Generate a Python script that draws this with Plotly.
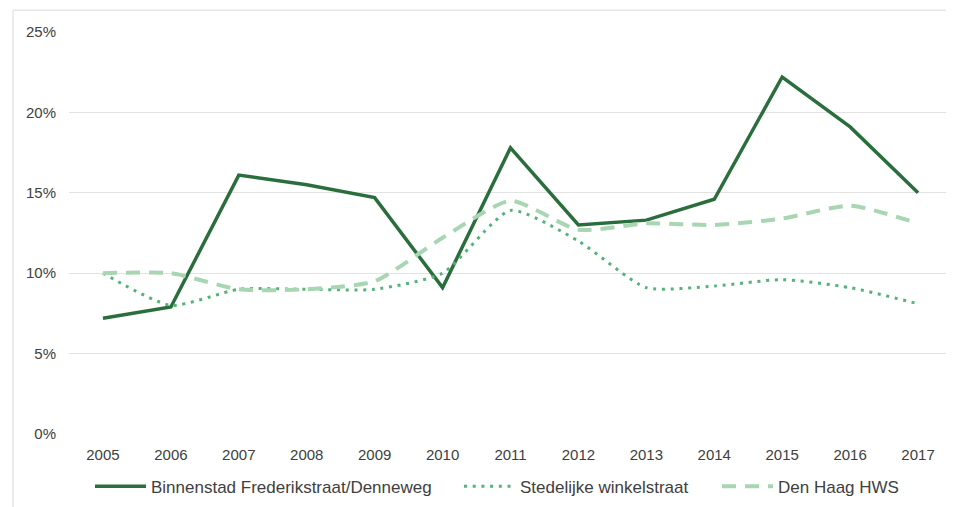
import plotly.graph_objects as go

years = ["2005", "2006", "2007", "2008", "2009", "2010", "2011",
         "2012", "2013", "2014", "2015", "2016", "2017"]
binnenstad = [7.2, 7.9, 16.1, 15.5, 14.7, 9.1, 17.8, 13.0, 13.3, 14.6, 22.2, 19.1, 15.0]
stedelijke = [10.0, 8.0, 9.0, 9.0, 9.0, 10.0, 13.9, 12.0, 9.1, 9.2, 9.6, 9.1, 8.1]
den_haag = [10.0, 10.0, 9.0, 9.0, 9.5, 12.2, 14.5, 12.7, 13.1, 13.0, 13.4, 14.2, 13.1]

names = ["Binnenstad Frederikstraat/Denneweg", "Stedelijke winkelstraat", "Den Haag HWS"]

# page offset of the figure div (default body margin)
OFF = 8
PL, PR, PT, PB = 69, 952, 32, 437  # plot area in page pixels
PW, PH = PR - PL, PB - PT

fig = go.Figure()
fig.add_trace(go.Scatter(x=years, y=binnenstad, name=names[0], mode="lines",
                         legend="legend",
                         line=dict(color="#2b6e3d", width=3.5)))
fig.add_trace(go.Scatter(x=years, y=stedelijke, name=names[1], mode="lines",
                         legend="legend2",
                         line=dict(color="#52b478", width=3, dash="3px,5.7px",
                                   shape="spline", smoothing=0.6)))
fig.add_trace(go.Scatter(x=years, y=den_haag, name=names[2], mode="lines",
                         legend="legend3",
                         line=dict(color="#a9d6b2", width=4, dash="14px,9px",
                                   shape="spline", smoothing=0.6)))

fig.add_shape(type="rect", xref="paper", yref="paper",
              x0=(13 - PL) / PW, x1=1.2, y0=-0.5, y1=(PB - 10) / PH,
              line=dict(color="#d9d9d9", width=1), fillcolor="rgba(0,0,0,0)", layer="below")

legend_y = (PB - 490) / PH
leg_common = dict(orientation="h", y=legend_y, yanchor="middle", xanchor="left",
                  font=dict(size=17, color="#404040"), itemwidth=51,
                  bgcolor="rgba(0,0,0,0)")

fig.update_layout(
    width=954 - OFF, height=507 - OFF,
    margin=dict(l=PL - OFF, r=954 - PR, t=PT - OFF, b=507 - PB),
    paper_bgcolor="white", plot_bgcolor="white",
    font=dict(family="Liberation Sans, Arial, sans-serif", size=15, color="#404040"),
    showlegend=True,
    legend=dict(x=(90 - PL) / PW, **leg_common),
    legend2=dict(x=(459 - PL) / PW, **leg_common),
    legend3=dict(x=(717 - PL) / PW, **leg_common),
    xaxis=dict(type="category", range=[-0.5, len(years) - 0.5], showgrid=False,
               zeroline=False, showline=False, ticks="", ticklabelstandoff=10,
               tickfont=dict(size=15)),
    yaxis=dict(range=[0, 25], dtick=5, ticksuffix="%", showgrid=True,
               gridcolor="#e3e3e3", gridwidth=1.3, zeroline=False, showline=False,
               ticks="", ticklabelstandoff=12, tickfont=dict(size=15)),
)

fig.write_html("out.html")
